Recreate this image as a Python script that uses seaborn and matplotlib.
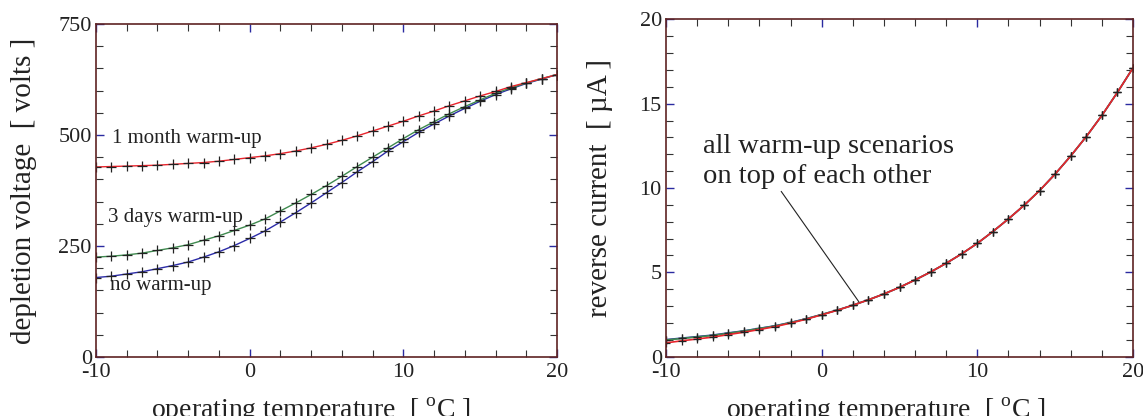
import numpy as np
import pandas as pd
import matplotlib
matplotlib.use("Agg")
import matplotlib.pyplot as plt
from matplotlib.ticker import MultipleLocator
import seaborn as sns

# Operating temperature grid (deg C)
temperature = list(range(-10, 21))

# Full depletion voltage (V) for the three warm-up scenarios
v_one_month = [428, 429, 430, 431, 432, 434, 436, 438, 441, 445, 449,
               453, 458, 464, 471, 479, 488, 498, 509, 520, 531,
               543, 554, 566, 577, 588, 598, 609, 618, 627, 636]
v_three_days = [225, 227, 230, 234, 240, 246, 253, 263, 273, 285, 297,
                311, 329, 347, 366, 386, 407, 429, 450, 471, 492,
                512, 530, 548, 564, 579, 594, 606, 617, 627, 636]
v_no_warmup = [179, 182, 187, 192, 199, 206, 214, 225, 237, 251, 267,
               284, 304, 325, 347, 370, 393, 417, 440, 464, 485,
               506, 525, 543, 560, 576, 591, 604, 616, 626, 636]

# Reverse current (uA) for the same scenarios
i_one_month = [0.82, 0.94, 1.05, 1.16, 1.31, 1.45, 1.61, 1.78, 1.99, 2.22, 2.48,
               2.75, 3.05, 3.37, 3.72, 4.11, 4.55, 5.02, 5.54, 6.10, 6.72,
               7.42, 8.17, 8.97, 9.85, 10.83, 11.90, 13.05, 14.30, 15.67, 17.12]
i_three_days = [0.99, 1.08, 1.17, 1.26, 1.39, 1.52, 1.67, 1.82, 2.02, 2.24, 2.50,
                2.76, 3.05, 3.37, 3.72, 4.11, 4.55, 5.02, 5.54, 6.10, 6.72,
                7.42, 8.17, 8.97, 9.85, 10.83, 11.90, 13.05, 14.30, 15.67, 17.12]
i_no_warmup = [1.01, 1.10, 1.19, 1.28, 1.41, 1.53, 1.68, 1.83, 2.03, 2.25, 2.50,
               2.76, 3.05, 3.37, 3.72, 4.11, 4.55, 5.02, 5.54, 6.10, 6.72,
               7.42, 8.17, 8.97, 9.85, 10.83, 11.90, 13.05, 14.30, 15.67, 17.12]

scenario_labels = ["no warm-up", "3 days warm-up", "1 month warm-up"]
scenario_colors = ["#2b2ba8", "#3f8a4f", "#e8242c"]

x_ticks = [-10, 0, 10, 20]
v_ticks = [0, 250, 500, 750]
i_ticks = [0, 5, 10, 15, 20]

sns.set_theme(style="white")
plt.rcParams["font.family"] = ["Liberation Serif", "DejaVu Serif"]
plt.rcParams["mathtext.fontset"] = "custom"
plt.rcParams["mathtext.rm"] = "Liberation Serif"
plt.rcParams["axes.unicode_minus"] = False

frame_color = "#5e2323"
major_tick_color = "#2a2aa0"
ink = "#222222"

fig = plt.figure(figsize=(11.43, 4.16), dpi=100)
ax_v = fig.add_axes([96 / 1143, 1 - 357 / 416, 461 / 1143, 333 / 416])
ax_i = fig.add_axes([666 / 1143, 1 - 356.7 / 416, 467 / 1143, 337.4 / 416])

volt = pd.DataFrame({"T": temperature, "no warm-up": v_no_warmup,
                     "3 days warm-up": v_three_days,
                     "1 month warm-up": v_one_month})
curr = pd.DataFrame({"T": temperature, "no warm-up": i_no_warmup,
                     "3 days warm-up": i_three_days,
                     "1 month warm-up": i_one_month})

for name, color in zip(scenario_labels, scenario_colors):
    sns.lineplot(data=volt, x="T", y=name, ax=ax_v, color=color, lw=1.0,
                 marker="+", markersize=6.5, markeredgecolor=ink,
                 markeredgewidth=0.9, clip_on=True)
    sns.lineplot(data=curr, x="T", y=name, ax=ax_i, color=color, lw=1.2,
                 marker="+", markersize=6, markeredgecolor=ink,
                 markeredgewidth=0.9, clip_on=True)


def style_axes(ax, yticks, ymax, yminor, label):
    ax.set_xlim(-10, 20)
    ax.set_ylim(0, ymax)
    ax.set_xticks(x_ticks)
    ax.set_yticks(yticks)
    ax.xaxis.set_minor_locator(MultipleLocator(2))
    ax.yaxis.set_minor_locator(MultipleLocator(yminor))
    ax.tick_params(which="both", direction="in", top=True, right=True,
                   bottom=True, left=True, labelsize=16, colors=ink)
    ax.tick_params(which="major", length=6, width=1.0, color=major_tick_color)
    ax.tick_params(which="minor", length=5, width=0.8, color="#333333")
    ax.tick_params(axis="x", which="major", pad=4.5)
    ax.tick_params(axis="y", which="major", pad=3)
    for spine in ax.spines.values():
        spine.set_color(frame_color)
        spine.set_linewidth(1.2)
    ax.set_xlabel(r"operating temperature  [ $^{\rm o}$C ]", fontsize=20,
                  color=ink)
    ax.set_ylabel(label, fontsize=21, color=ink)
    ax.grid(False)


style_axes(ax_v, v_ticks, 750, 50, "depletion voltage  [ volts ]")
style_axes(ax_i, i_ticks, 20, 1, "reverse current  [ \u00b5A ]")

ax_v.xaxis.set_label_coords(0.465, -0.115)
ax_v.yaxis.set_label_coords(-0.128, 0.5)
ax_i.xaxis.set_label_coords(0.47, -0.115)
ax_i.yaxis.set_label_coords(-0.113, 0.5)

# Scenario names beside the depletion-voltage curves
ax_v.text(-8.95, 491, "1 month warm-up", fontsize=15, va="center", ha="left",
          color=ink)
ax_v.text(-9.2, 315, "3 days warm-up", fontsize=15, va="center", ha="left",
          color=ink)
ax_v.text(-9.1, 162, "no warm-up", fontsize=15, va="center", ha="left",
          color=ink)

# Note on the current panel with a pointer to the overlapping curves
ax_i.text(-7.6, 13.2, "all warm-up scenarios\non top of each other",
          fontsize=20.5, ha="left", va="top", color=ink, linespacing=1.25)
ax_i.annotate("", xy=(2.4, 3.24), xytext=(-2.6, 9.8),
              arrowprops=dict(arrowstyle="-", color=ink, lw=0.8,
                              shrinkA=0, shrinkB=0))

fig.savefig("out.png", dpi=100)
